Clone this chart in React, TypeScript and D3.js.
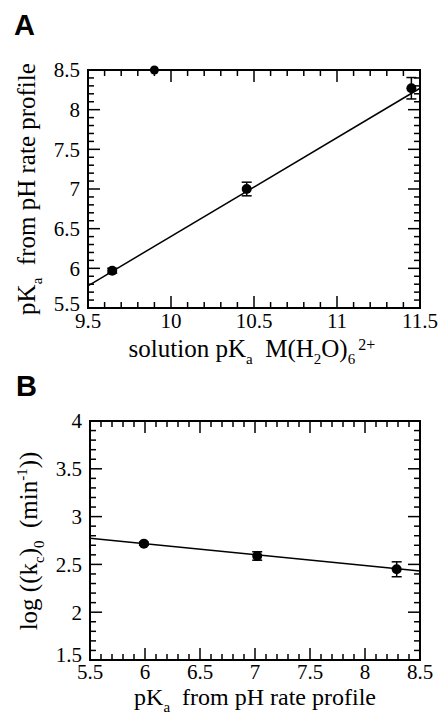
import React from "react";
import * as d3 from "d3";

// Panel A data
const aX = [9.646, 10.456, 11.448];
const aY = [5.97, 7.0, 8.27];
const aErr = [0.03, 0.086, 0.135];
const aOffX = [9.9];
const aOffY = [8.5];
const aFitX = [9.5, 11.5];
const aFitY = [5.78, 8.27];
const aXTicks = [9.5, 10, 10.5, 11, 11.5];
const aYTicks = [5.5, 6, 6.5, 7, 7.5, 8, 8.5];

// Panel B data
const bX = [5.99, 7.02, 8.288];
const bY = [2.717, 2.588, 2.449];
const bErr = [0.015, 0.044, 0.078];
const bFitX = [5.5, 8.5];
const bFitY = [2.773, 2.43];
const bXTicks = [5.5, 6, 6.5, 7, 7.5, 8, 8.5];
const bYTicks = [1.5, 2, 2.5, 3, 3.5, 4];

const SERIF = "'Liberation Serif', 'Times New Roman', Times, serif";
const SANS = "'Liberation Sans', Arial, Helvetica, sans-serif";
const TICK_FS = 21;
const LABEL_FS = 25;
const SUB_FS = 15;

function minorTicks(lo: number, hi: number, step: number) {
  const n = Math.round((hi - lo) / step);
  const out: number[] = [];
  for (let i = 0; i <= n; i++) out.push(+(lo + i * step).toFixed(4));
  return out;
}

function Frame({ x, y, xMinor, yMinor, isMajorX, isMajorY }: any) {
  const [x0, x1] = x.range();
  const [y0, y1] = y.range();
  const el: any[] = [];
  xMinor.forEach((v: number, i: number) => {
    const L = isMajorX(v) ? 12 : 6;
    const px = x(v);
    el.push(<line key={"xb" + i} x1={px} x2={px} y1={y0} y2={y0 - L} />);
    el.push(<line key={"xt" + i} x1={px} x2={px} y1={y1} y2={y1 + L} />);
  });
  yMinor.forEach((v: number, i: number) => {
    const L = isMajorY(v) ? 12 : 6;
    const py = y(v);
    el.push(<line key={"yl" + i} x1={x0} x2={x0 + L} y1={py} y2={py} />);
    el.push(<line key={"yr" + i} x1={x1} x2={x1 - L} y1={py} y2={py} />);
  });
  return (
    <g stroke="#000">
      <g strokeWidth={1.5}>{el}</g>
      <rect x={x0} y={y1} width={x1 - x0} height={y0 - y1} fill="none" strokeWidth={2} />
    </g>
  );
}

function Points({ x, y, xs, ys, errs }: any) {
  return (
    <g>
      {xs.map((v: number, i: number) => {
        const px = x(v);
        const py = y(ys[i]);
        const t = y(ys[i] + errs[i]);
        const b = y(ys[i] - errs[i]);
        return (
          <g key={i} stroke="#000" strokeWidth={1.5}>
            <line x1={px} x2={px} y1={t} y2={b} />
            <line x1={px - 5} x2={px + 5} y1={t} y2={t} />
            <line x1={px - 5} x2={px + 5} y1={b} y2={b} />
            <circle cx={px} cy={py} r={5} fill="#000" stroke="none" />
          </g>
        );
      })}
    </g>
  );
}

export default function App() {
  // Panel A scales
  const ax = d3.scaleLinear().domain([9.5, 11.5]).range([88, 420]);
  const ay = d3.scaleLinear().domain([5.5, 8.5]).range([308, 70]);
  // Panel B scales
  const bx = d3.scaleLinear().domain([5.5, 8.5]).range([90, 420]);
  const by = d3.scaleLinear().domain([1.5, 4]).range([660, 421]);

  const line = (sx: any, sy: any) =>
    d3.line<number>().x((d) => sx(d[0])).y((d) => sy(d[1]));

  const aFit = aFitX.map((v, i) => [v, aFitY[i]]);
  const bFit = bFitX.map((v, i) => [v, bFitY[i]]);

  const isHalf = (v: number) => Math.abs(v * 2 - Math.round(v * 2)) < 1e-6;
  const serif = { fontFamily: SERIF };

  return (
    <svg width={441} height={715} style={{ position: "absolute", left: 0, top: 0, background: "#fff" }}>
      <rect width={441} height={715} fill="#fff" />
      {/* Panel A */}
      <text x={14} y={35} style={{ fontFamily: SANS }} fontWeight="bold" fontSize={29}>A</text>
      <Frame x={ax} y={ay} xMinor={minorTicks(9.5, 11.5, 0.1)} yMinor={minorTicks(5.5, 8.5, 0.1)} isMajorX={isHalf} isMajorY={isHalf} />
      <path d={line(ax, ay)(aFit as any) || ""} fill="none" stroke="#000" strokeWidth={1.5} />
      <Points x={ax} y={ay} xs={aX} ys={aY} errs={aErr} />
      {aOffX.map((v, i) => (
        <g key={i} stroke="#000" strokeWidth={1.5}>
          <line x1={ax(v) - 6} x2={ax(v) + 6} y1={ay(aOffY[i])} y2={ay(aOffY[i])} />
          <circle cx={ax(v)} cy={ay(aOffY[i])} r={4.5} fill="#000" stroke="none" />
        </g>
      ))}
      {aXTicks.map((v) => (
        <text key={"ax" + v} x={ax(v)} y={328} style={serif} fontSize={TICK_FS} textAnchor="middle">{v}</text>
      ))}
      {aYTicks.map((v) => (
        <text key={"ay" + v} x={80} y={ay(v)} dy={v === 5.5 ? "0.12em" : "0.35em"} style={serif} fontSize={TICK_FS} textAnchor="end">{v}</text>
      ))}
      <text x={252} y={357} style={serif} fontSize={LABEL_FS} textAnchor="middle">
        solution pK<tspan fontSize={SUB_FS} dy={7}>a</tspan>
        <tspan dy={-7}>{"\u2002"}M(H</tspan>
        <tspan fontSize={SUB_FS} dy={7}>2</tspan>
        <tspan dy={-7}>O)</tspan>
        <tspan fontSize={SUB_FS} dy={7}>6</tspan>
        <tspan fontSize={16} dy={-14}>{"\u2009"}2+</tspan>
      </text>
      <text transform={`translate(35,189) rotate(-90)`} style={serif} fontSize={LABEL_FS} textAnchor="middle">
        pK<tspan fontSize={SUB_FS} dy={7}>a</tspan>
        <tspan dy={-7}>{"\u2002"}from pH rate profile</tspan>
      </text>

      {/* Panel B */}
      <text x={16} y={396} style={{ fontFamily: SANS }} fontWeight="bold" fontSize={29}>B</text>
      <Frame x={bx} y={by} xMinor={minorTicks(5.5, 8.5, 0.1)} yMinor={minorTicks(1.5, 4, 0.1)} isMajorX={isHalf} isMajorY={isHalf} />
      <path d={line(bx, by)(bFit as any) || ""} fill="none" stroke="#000" strokeWidth={1.5} />
      <Points x={bx} y={by} xs={bX} ys={bY} errs={bErr} />
      {bXTicks.map((v) => (
        <text key={"bx" + v} x={bx(v)} y={679} style={serif} fontSize={TICK_FS} textAnchor="middle">{v}</text>
      ))}
      {bYTicks.map((v) => (
        <text key={"by" + v} x={82} y={by(v)} dy={v === 1.5 ? "0.1em" : "0.35em"} style={serif} fontSize={TICK_FS} textAnchor="end">{v}</text>
      ))}
      <text x={255} y={705} style={serif} fontSize={24} textAnchor="middle">
        pK<tspan fontSize={SUB_FS} dy={7}>a</tspan>
        <tspan dy={-7}>{"\u2002"}from pH rate profile</tspan>
      </text>
      <text transform={`translate(37,541) rotate(-90)`} style={serif} fontSize={LABEL_FS} textAnchor="middle">
        log ((k<tspan fontSize={SUB_FS} dy={7}>c</tspan>
        <tspan dy={-7}>)</tspan>
        <tspan fontSize={SUB_FS} dy={7}>0</tspan>
        <tspan dy={-7}>{"\u2002"}(min</tspan>
        <tspan fontSize={SUB_FS} dy={-10}>-1</tspan>
        <tspan dy={10}>))</tspan>
      </text>
    </svg>
  );
}
